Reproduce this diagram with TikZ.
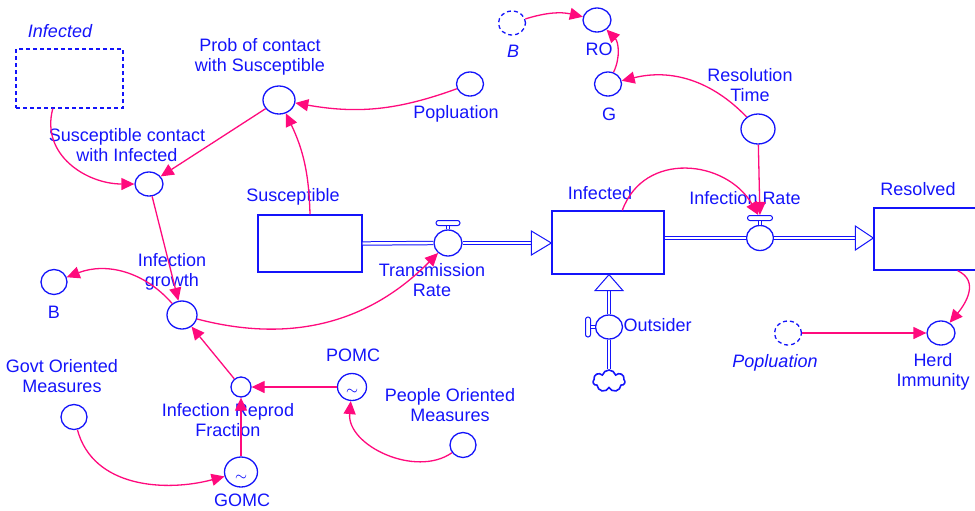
\documentclass[tikz,border=0pt]{standalone}
\usepackage{fontspec}
\setmainfont{Liberation Sans}
\usetikzlibrary{arrows.meta,shapes.geometric,shapes.symbols}
\definecolor{vblue}{RGB}{20,20,250}
\definecolor{vpink}{RGB}{255,10,125}

\begin{document}
\begin{tikzpicture}[x=0.5pt,y=-0.5pt,line width=0.65pt,font=\fontsize{9}{10}\selectfont,
    aux/.style={ellipse,draw=vblue,minimum width=13.5pt,minimum height=12pt,inner sep=0pt},
    ghost/.style={aux,dash pattern=on 2pt off 1.5pt},
    stock/.style={rectangle,draw=vblue,inner sep=0pt},
    valve/.style={ellipse,draw=vblue,fill=white,minimum width=13.5pt,minimum height=12.5pt,inner sep=0pt},
    handle/.style={rectangle,rounded corners=1.2pt,draw=vblue,fill=white,inner sep=0pt,line width=0.5pt},
    lbl/.style={text=vblue,align=center,inner sep=0pt},
    ilbl/.style={lbl,font=\fontsize{9}{10}\selectfont\itshape},
    link/.style={draw=vpink,-{Triangle[length=6.5pt,width=6pt]}},
    pipe/.style={draw=vblue,double=white,double distance=1.2pt,line width=0.5pt},
    head/.style={draw=vblue,fill=white,line width=0.5pt}]

    \useasboundingbox (0,0) rectangle (975,510);

    % stocks
    \node[stock,dash pattern=on 2pt off 1.5pt,minimum width=53.5pt,minimum height=29.5pt] (ghostinf) at (69.5,78.5) {};
    \node[stock,minimum width=52pt,minimum height=28.5pt] (susbox) at (310,243.5) {};
    \node[stock,minimum width=56pt,minimum height=31.5pt] (infbox) at (608,242.5) {};
    \node[stock,minimum width=53pt,minimum height=31pt] (resolved) at (927,239) {};

    % auxiliaries
    \node[aux,minimum width=16pt,minimum height=14pt] (prob) at (279,100) {};
    \node[aux] (pop) at (470,84) {};
    \node[aux,minimum width=14pt] (sci) at (149,184) {};
    \node[aux,minimum width=15pt,minimum height=14pt] (ig) at (182,315) {};
    \node[aux,minimum width=13pt,minimum height=12.5pt] (b) at (54,282) {};
    \node[aux,minimum width=13pt,minimum height=12.5pt] (gom) at (74,417) {};
    \node[aux,minimum width=10pt,minimum height=10pt] (irf) at (241,387) {};
    \node[aux,minimum width=14.5pt,minimum height=13.5pt] (pomc) at (352,387) {};
    \node[aux,minimum width=16.5pt,minimum height=15pt] (gomc) at (241,472) {};
    \node[aux,minimum width=13pt,minimum height=12.5pt] (pom) at (463,445) {};
    \node[ghost] (bghost) at (512,23) {};
    \node[aux,minimum width=14pt] (ro) at (597,20) {};
    \node[aux] (g) at (608,84) {};
    \node[aux,minimum width=17pt,minimum height=15pt] (rt) at (758,129) {};
    \node[ghost] (popghost) at (788,333) {};
    \node[aux,minimum width=14pt] (hi) at (941,333) {};
    \node[lbl,font=\fontsize{7}{7}\selectfont] (pomcsym) at ([yshift=-2.5pt]pomc.center) {$\sim$};
    \node[lbl,font=\fontsize{7}{7}\selectfont] (gomcsym) at ([yshift=-3pt]gomc.center) {$\sim$};

    % valves
    \node[valve,minimum width=14pt,minimum height=13pt] (tr) at (448,243) {};
    \node[handle,minimum width=12pt,minimum height=2.5pt] (trbar) at (448,223) {};
    \node[valve] (ir) at (760,238) {};
    \node[handle,minimum width=12.5pt,minimum height=2.5pt] (irbar) at (760,218) {};
    \node[valve,minimum height=12pt] (out) at (609,327) {};
    \node[handle,minimum width=2.5pt,minimum height=10pt] (outbar) at (588,327) {};
    \node[cloud,draw=vblue,line width=0.8pt,cloud puffs=7,cloud ignores aspect,minimum width=16pt,minimum height=11pt,inner sep=0pt] (cloudsrc) at (609,381) {};

    \coordinate (trtip) at (infbox.west |- tr);
    \coordinate (irsrc) at (infbox.east |- ir);
    \coordinate (irtip) at (resolved.west |- ir);
    \coordinate (outtip) at (out |- infbox.south);

    % pipes
    \draw[pipe] (tr.north) -- (trbar.south);
    \draw[pipe] (ir.north) -- (irbar.south);
    \draw[pipe] (out.west) -- (outbar.east);
    \draw[pipe] (susbox.east) -- (tr.west);
    \draw[pipe] (tr.east) -- ([xshift=-10pt]trtip);
    \draw[head] ([xshift=-10pt,yshift=6pt]trtip) -- (trtip) -- ([xshift=-10pt,yshift=-6pt]trtip) -- cycle;
    \draw[pipe] (irsrc) -- (ir.west);
    \draw[pipe] (ir.east) -- ([xshift=-9pt]irtip);
    \draw[head] ([xshift=-9pt,yshift=6pt]irtip) -- (irtip) -- ([xshift=-9pt,yshift=-6pt]irtip) -- cycle;
    \draw[pipe] (cloudsrc.north) -- (out.south);
    \draw[pipe] (out.north) -- ([yshift=-8pt]outtip);
    \draw[head] ([xshift=-7pt,yshift=-8pt]outtip) -- (outtip) -- ([xshift=7pt,yshift=-8pt]outtip) -- cycle;

    % labels
    \node[ilbl] (linf) at (60,31) {Infected};
    \node[lbl] (lprob) at (260,57) {Prob of contact\\with Susceptible};
    \node[lbl] (lpop) at (456,114) {Popluation};
    \node[lbl] (lsci) at (127,145) {Susceptible contact\\with Infected};
    \node[lbl] (lsus) at (293,197) {Susceptible};
    \node[lbl] (lig) at (172,272) {Infection\\growth};
    \node[lbl] (lb) at (54,312) {B};
    \node[lbl] (lgom) at (62,376) {Govt Oriented\\Measures};
    \node[lbl] (lirf) at (228,420) {Infection Reprod\\Fraction};
    \node[lbl] (lpomc) at (353,355) {POMC};
    \node[lbl] (lgomc) at (242,500) {GOMC};
    \node[lbl] (lpom) at (450,405) {People Oriented\\Measures};
    \node[lbl] (ltr) at (432,280) {Transmission\\Rate};
    \node[lbl] (linfd) at (600,193) {Infected};
    \node[ilbl] (lbg) at (513,51) {B};
    \node[lbl] (lro) at (599,49) {RO};
    \node[lbl] (lg) at (609,114) {G};
    \node[lbl] (lrt) at (750,85) {Resolution\\Time};
    \node[lbl] (lir) at (745,198) {Infection Rate};
    \node[lbl] (lres) at (918,189) {Resolved};
    \node[lbl,anchor=west] (lout) at (623,325) {Outsider};
    \node[ilbl] (lpopg) at (775,363) {Popluation};
    \node[lbl] (lhi) at (933,372) {Herd\\Immunity};

    % links
    \path[every edge/.style=link]
        (ghostinf.241) edge[out=255,in=180,looseness=1.1] (sci)
        (prob) edge (sci)
        (pop) edge[bend left=15] (prob)
        (susbox.north) edge[bend right=12] (prob)
        (sci) edge (ig)
        (ig) edge[bend right=35] (b)
        (ig) edge[bend right=30] (tr)
        (irf) edge (ig)
        (pomc) edge (irf)
        (gomc) edge (irf)
        (gom) edge[out=-75,in=195] (gomc)
        (pom) edge[out=215,in=-95] (pomc)
        (bghost) edge[bend left=15] (ro)
        (g) edge[bend right=35] (ro)
        (rt) edge[bend right=30] (g)
        (rt) edge (irbar)
        (infbox.66) edge[out=70,in=120,looseness=1.2] (irbar)
        (popghost) edge (hi)
        (resolved.-46) edge[out=-25,in=50,looseness=1.2] (hi)
        ;
\end{tikzpicture}
\end{document}
